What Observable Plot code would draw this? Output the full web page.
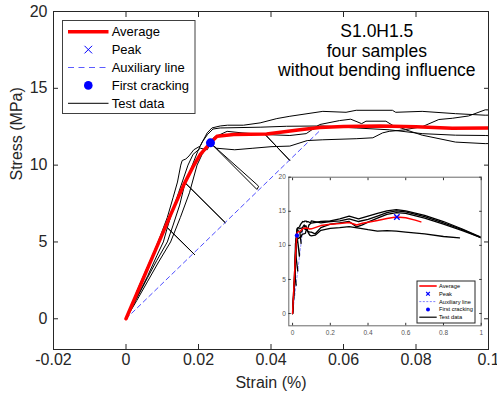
<!DOCTYPE html>
<html><head><meta charset="utf-8">
<script src="https://cdn.jsdelivr.net/npm/d3@7"></script>
<script src="https://cdn.jsdelivr.net/npm/@observablehq/plot@0.6"></script>
<style>
body{margin:0;background:#fff;font-family:"Liberation Sans",Arial,sans-serif;}
#wrap{position:relative;width:497px;height:403px;overflow:hidden;}
#inset{position:absolute;left:255px;top:165px;}
svg{display:block;}
</style></head><body>
<div id="wrap"><div id="main"></div><div id="inset"></div></div>
<script>
// ---- data (strain in %, stress in MPa) ----
const strainA = [0,0.0015,0.003,0.005,0.0078,0.0095,0.0114,0.013,0.0142,0.0151,0.0155,0.0165,0.0174,0.0187,0.0205,0.0224,0.0237,0.026,0.028,0.0324,0.037,0.0416,0.0452,0.0543,0.0607,0.0635,0.0735,0.0744,0.0817,0.0909,0.0991,0.15,0.2,0.25,0.3,0.35,0.4,0.45,0.5,0.55,0.6,0.7,0.8,0.9,1.0];
const stressA = [0,0.8,1.8,2.9,4.4,5.4,6.6,7.9,8.9,10.0,10.3,10.4,10.6,11.0,11.25,12.1,12.42,12.55,12.6,12.6,12.75,13.03,13.18,13.5,13.44,13.57,13.57,13.44,13.5,13.35,13.25,13.5,13.6,13.9,14.3,13.9,14.3,14.7,15.05,15.25,15.05,14.4,13.5,12.4,11.2];
const strainB = [0,0.003,0.006,0.0085,0.0103,0.0114,0.019,0.0114,0.0128,0.0145,0.0158,0.0171,0.0185,0.0205,0.0224,0.0242,0.0279,0.032,0.0384,0.0452,0.0384,0.0452,0.0497,0.0534,0.0589,0.062,0.065,0.0662,0.0717,0.0735,0.0772,0.0817,0.0863,0.09,0.0945,0.0991,0.15,0.2,0.25,0.3,0.35,0.4,0.45,0.5,0.55,0.6,0.7,0.8,0.9,1.0];
const stressB = [0,1.4,2.8,4.1,5.0,5.93,4.16,5.93,7.0,8.2,9.1,10.0,10.7,11.1,11.0,11.8,12.2,12.1,11.99,10.3,11.99,11.93,12.05,12.64,12.9,12.99,12.7,12.86,12.86,12.6,12.32,12.5,12.97,13.05,13.2,13.6,13.3,13.5,13.6,13.9,13.5,13.8,14.3,14.8,15.05,14.9,14.2,13.3,12.3,11.1];
const strainC = [0,0.003,0.006,0.0085,0.0114,0.013,0.0148,0.0163,0.0274,0.0163,0.0172,0.0183,0.0198,0.021,0.0225,0.024,0.026,0.037,0.0443,0.0543,0.0635,0.0726,0.0817,0.0909,0.0991,0.12,0.15,0.2,0.25,0.3,0.34,0.37,0.4,0.45,0.5,0.55,0.6,0.7,0.8,0.9,1.0];
const stressC = [0,1.35,2.7,3.8,5.0,6.1,7.4,8.85,6.25,8.85,9.3,10.0,10.9,11.5,12.0,12.35,12.42,12.47,12.53,12.55,12.42,12.3,12.05,11.95,11.93,11.7,12.6,13.1,13.3,13.5,12.7,13.0,13.4,14.0,14.55,14.8,14.7,14.0,13.1,12.15,11.15];
const strainD = [0,0.003,0.006,0.009,0.0123,0.015,0.0175,0.0196,0.021,0.0225,0.02375,0.0361,0.0366,0.0359,0.02375,0.025,0.03,0.035,0.04,0.0452,0.05,0.0543,0.0635,0.0681,0.0708,0.0726,0.0772,0.0817,0.0909,0.0991,0.12,0.15,0.2,0.25,0.3,0.36,0.4,0.45,0.5,0.55,0.6,0.7,0.8,0.885];
const stressD = [0,1.2,2.45,3.7,5.0,6.6,8.2,10.0,10.7,11.2,11.34,8.42,8.62,8.78,11.34,11.1,11.0,11.1,11.2,11.24,11.6,11.65,11.72,11.78,12.1,12.2,12.3,11.95,11.5,11.4,11.5,12.2,12.5,12.6,12.75,12.5,12.3,12.1,12.15,12.1,11.95,11.7,11.3,11.1];
const avgStrain = [0,0.004,0.008,0.012,0.016,0.0185,0.0205,0.0233,0.0251,0.0297,0.0388,0.048,0.0534,0.06,0.07,0.08,0.09,0.1,0.15,0.2,0.25,0.3,0.34,0.37,0.4,0.45,0.5,0.55,0.6,0.65,0.68];
const avgStress = [0,2.2,4.4,6.6,8.75,9.9,10.7,11.45,11.88,12.0,12.03,12.3,12.45,12.52,12.55,12.5,12.4,12.42,12.9,13.1,13.2,13.35,13.0,13.25,13.4,13.65,13.95,14.15,14.05,13.7,13.45];
const auxStrain = [0, 0.0535];
const auxStress = [0, 12.25];
const peakStrain = [0.553];
const peakStress = [14.15];
const crackStrain = [0.0233];
const crackStress = [11.45];
const sampleNames = ["A","B","C","D"];
const xTicks = [-0.02,0,0.02,0.04,0.06,0.08,0.1];
const xTickLabels = ["-0.02","0","0.02","0.04","0.06","0.08","0.1"];
const yTicks = [0,5,10,15,20];
const yTickLabels = ["0","5","10","15","20"];
const insetXTicks = [0,0.2,0.4,0.6,0.8,1];
const insetXTickLabels = ["0","0.2","0.4","0.6","0.8","1"];
const legendLabels = ["Average","Peak","Auxiliary line","First cracking","Test data"];
const annotation = ["S1.0H1.5","four samples","without bending influence"];
const annotationY = [18.69,17.41,16.14];

// ---- tables ----
const rows = (xs, ys, name) => xs.map((x, i) => ({strain: x, stress: ys[i], sample: name}));
const testRows = [
  ...rows(strainA, stressA, sampleNames[0]),
  ...rows(strainB, stressB, sampleNames[1]),
  ...rows(strainC, stressC, sampleNames[2]),
  ...rows(strainD, stressD, sampleNames[3])
];
const avgRows = rows(avgStrain, avgStress, "avg");
const auxRows = rows(auxStrain, auxStress, "aux");
const peakRows = rows(peakStrain, peakStress, "peak");
const crackRows = rows(crackStrain, crackStress, "crack");

const BLUE = "#0000ff", RED = "#ff0000", INK = "#262626";
const FONT = "Liberation Sans, Arial, Helvetica, sans-serif";

function inwardTicks(xt, yt, len, color) {
  return [
    Plot.axisX(xt, {anchor: "bottom", tickSize: len, dy: -len, fill: "none", stroke: color, label: null}),
    Plot.axisX(xt, {anchor: "top", tickSize: len, dy: len, fill: "none", stroke: color, label: null}),
    Plot.axisY(yt, {anchor: "left", tickSize: len, dx: len, fill: "none", stroke: color, label: null}),
    Plot.axisY(yt, {anchor: "right", tickSize: len, dx: -len, fill: "none", stroke: color, label: null})
  ];
}

// ---- main chart ----
const mainPlot = Plot.plot({
  width: 497, height: 403,
  marginLeft: 53, marginRight: 9, marginTop: 11, marginBottom: 54,
  style: {background: "transparent", fontFamily: FONT, color: INK, overflow: "visible"},
  x: {domain: [-0.02, 0.1]},
  y: {domain: [-2, 20]},
  marks: [
    Plot.line(auxRows, {x: "strain", y: "stress", stroke: "#3a3aff", strokeWidth: 0.9, strokeDasharray: "4.5,3.5", clip: true}),
    Plot.line(testRows, {x: "strain", y: "stress", z: "sample", stroke: "black", strokeWidth: 1, clip: true}),
    Plot.line(avgRows, {x: "strain", y: "stress", stroke: RED, strokeWidth: 3.5, clip: true}),
    Plot.dot(crackRows, {x: "strain", y: "stress", r: 4.5, fill: BLUE, stroke: null, clip: true}),
    Plot.dot(peakRows, {x: "strain", y: "stress", symbol: "times", r: 4, stroke: BLUE, clip: true}),
    Plot.frame({stroke: INK}),
    ...inwardTicks(xTicks, yTicks, 5, INK),
    Plot.axisX(xTicks, {anchor: "bottom", tickSize: 0, tickPadding: 4, fontSize: 16, fill: INK, label: null,
      tickFormat: d => xTickLabels[xTicks.indexOf(d)]}),
    Plot.axisY(yTicks, {anchor: "left", tickSize: 0, tickPadding: 6, fontSize: 16, fill: INK, label: null,
      tickFormat: d => yTickLabels[yTicks.indexOf(d)]}),
    Plot.text(["Strain (%)"], {frameAnchor: "bottom", dy: 38, fontSize: 16, fill: INK}),
    Plot.text(["Stress (MPa)"], {frameAnchor: "left", dx: -36.4, rotate: -90, fontSize: 16, fill: INK}),
    Plot.text(annotation, {x: () => 0.0692, y: (d, i) => annotationY[i], fontSize: 17.5, fill: "black"})
  ]
});
document.getElementById("main").appendChild(mainPlot);

function drawLegend(svgNode, o) {
  const g = d3.select(svgNode).append("g").attr("font-family", FONT).attr("text-anchor", "start");
  g.append("rect").attr("x", o.x).attr("y", o.y).attr("width", o.w).attr("height", o.h)
    .attr("fill", "white").attr("stroke", o.box).attr("stroke-width", o.boxWidth);
  legendLabels.forEach((lab, i) => {
    const cy = o.y0 + i * o.step;
    if (i === 0) g.append("line").attr("x1", o.s0).attr("x2", o.s1).attr("y1", cy).attr("y2", cy).attr("stroke", RED).attr("stroke-width", o.avgW);
    if (i === 1) g.append("path").attr("d", `M${o.mx - o.xs},${cy - o.xs}L${o.mx + o.xs},${cy + o.xs}M${o.mx - o.xs},${cy + o.xs}L${o.mx + o.xs},${cy - o.xs}`).attr("stroke", BLUE).attr("stroke-width", o.xw).attr("fill", "none");
    if (i === 2) g.append("line").attr("x1", o.s0).attr("x2", o.s1).attr("y1", cy).attr("y2", cy).attr("stroke", "#4a4aff").attr("stroke-width", o.auxW).attr("stroke-dasharray", o.dash);
    if (i === 3) g.append("circle").attr("cx", o.mx).attr("cy", cy).attr("r", o.r).attr("fill", BLUE);
    if (i === 4) g.append("line").attr("x1", o.s0).attr("x2", o.s1).attr("y1", cy).attr("y2", cy).attr("stroke", o.testC).attr("stroke-width", o.testW);
    g.append("text").attr("x", o.tx).attr("y", cy).attr("dy", "0.35em").attr("text-anchor", "start")
      .attr("font-size", o.fs).attr("fill", "black").text(lab);
  });
}
drawLegend(mainPlot, {x: 62.5, y: 20.5, w: 132.5, h: 93, box: "#404040", boxWidth: 1, y0: 31.7, step: 17.9,
  s0: 68, s1: 108.5, mx: 88.3, xs: 3.8, xw: 1, r: 4.3, tx: 111.7, fs: 13, avgW: 3.5, auxW: 0.9, dash: "6,4.5", testC: "#333", testW: 1.2});

// ---- inset chart ----
const insetPlot = Plot.plot({
  width: 235, height: 180,
  marginLeft: 33.3, marginRight: 9.3, marginTop: 11.7, marginBottom: 19.7,
  style: {background: "transparent", fontFamily: FONT, color: "#555", overflow: "visible"},
  x: {domain: [-0.02, 1]},
  y: {domain: [-1.8, 20]},
  marks: [
    Plot.frame({fill: "white", stroke: null}),
    Plot.line(auxRows, {x: "strain", y: "stress", stroke: "#8080ff", strokeWidth: 0.8, strokeDasharray: "2.5,2", clip: true}),
    Plot.line(testRows, {x: "strain", y: "stress", z: "sample", stroke: "black", strokeWidth: 1.3, clip: true}),
    Plot.line(avgRows, {x: "strain", y: "stress", stroke: RED, strokeWidth: 1.5, clip: true}),
    Plot.dot(crackRows, {x: "strain", y: "stress", r: 2.2, fill: BLUE, stroke: null, clip: true}),
    Plot.dot(peakRows, {x: "strain", y: "stress", symbol: "times", r: 2.6, stroke: BLUE, strokeWidth: 1.4, clip: true}),
    Plot.frame({stroke: "#6a6a6a"}),
    ...inwardTicks(insetXTicks, yTicks, 2.5, "#333"),
    Plot.axisX(insetXTicks, {anchor: "bottom", tickSize: 0, tickPadding: 5, fontSize: 6.5, fill: "#555", label: null,
      tickFormat: d => insetXTickLabels[insetXTicks.indexOf(d)]}),
    Plot.axisY(yTicks, {anchor: "left", tickSize: 0, tickPadding: 3, fontSize: 6.5, fill: "#555", label: null,
      tickFormat: d => yTickLabels[yTicks.indexOf(d)]})
  ]
});
document.getElementById("inset").appendChild(insetPlot);
drawLegend(insetPlot, {x: 162, y: 116, w: 58, h: 42, box: "#262626", boxWidth: 1, y0: 121, step: 7.8,
  s0: 164.3, s1: 181.7, mx: 173, xs: 1.8, xw: 1.2, r: 2, tx: 184, fs: 5.7, avgW: 1.6, auxW: 0.7, dash: "2,1.5", testC: "black", testW: 1.2});
</script>
</body></html>
